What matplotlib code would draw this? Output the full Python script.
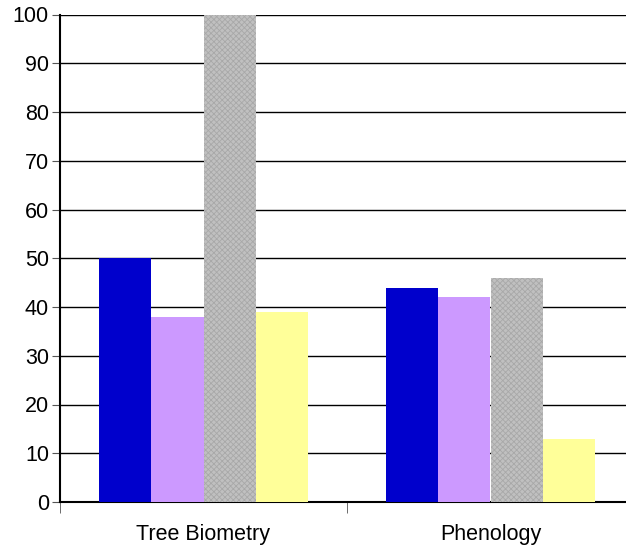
import matplotlib
matplotlib.use("Agg")
import matplotlib.pyplot as plt
import numpy as np

categories = ["Tree Biometry", "Phenology"]
series_a = [50, 44]
series_b = [38, 42]
series_c = [100, 46]
series_d = [39, 13]
colors = ["#0000CC", "#CC99FF", "#C0C0C0", "#FFFF99"]
yticks = [0, 10, 20, 30, 40, 50, 60, 70, 80, 90, 100]

plt.rcParams['font.family'] = ['Liberation Sans', 'DejaVu Sans']
plt.rcParams['hatch.color'] = '#a8a8a8'
plt.rcParams['hatch.linewidth'] = 0.6
fig = plt.figure(figsize=(6.26, 5.46), dpi=100)
ax = fig.add_axes([60/626, 1-502/546, 574/626, 487.5/546])

x = np.arange(len(categories))
w = 0.73/4
allseries = [series_a, series_b, series_c, series_d]
for i, (s, c) in enumerate(zip(allseries, colors)):
    kw = {}
    if i == 2:
        kw = dict(hatch='xxxxxx', edgecolor='#a8a8a8', linewidth=0)
    ax.bar(x + (i-1.5)*w, s, w, color=c, zorder=3, **kw)

ax.set_ylim(0, 100)
ax.set_xlim(-0.5, 1.5)
ax.set_yticks(yticks)
ax.yaxis.grid(True, color='black', linewidth=1.0, zorder=0)
ax.set_axisbelow(True)
ax.set_xticks(x)
ax.set_xticklabels(categories, fontsize=15.5)
ax.set_xticks([-0.5, 0.5, 1.5], minor=True)
ax.tick_params(axis='x', which='major', length=0, pad=16)
ax.tick_params(axis='x', which='minor', length=8, color='#555555')
ax.tick_params(axis='y', length=6, color='#555555', labelsize=15.5, pad=2)
for s in ['top', 'right']:
    ax.spines[s].set_visible(False)
ax.spines['left'].set_linewidth(1.5)
ax.spines['bottom'].set_linewidth(1.5)
fig.savefig("out.png", dpi=100)
